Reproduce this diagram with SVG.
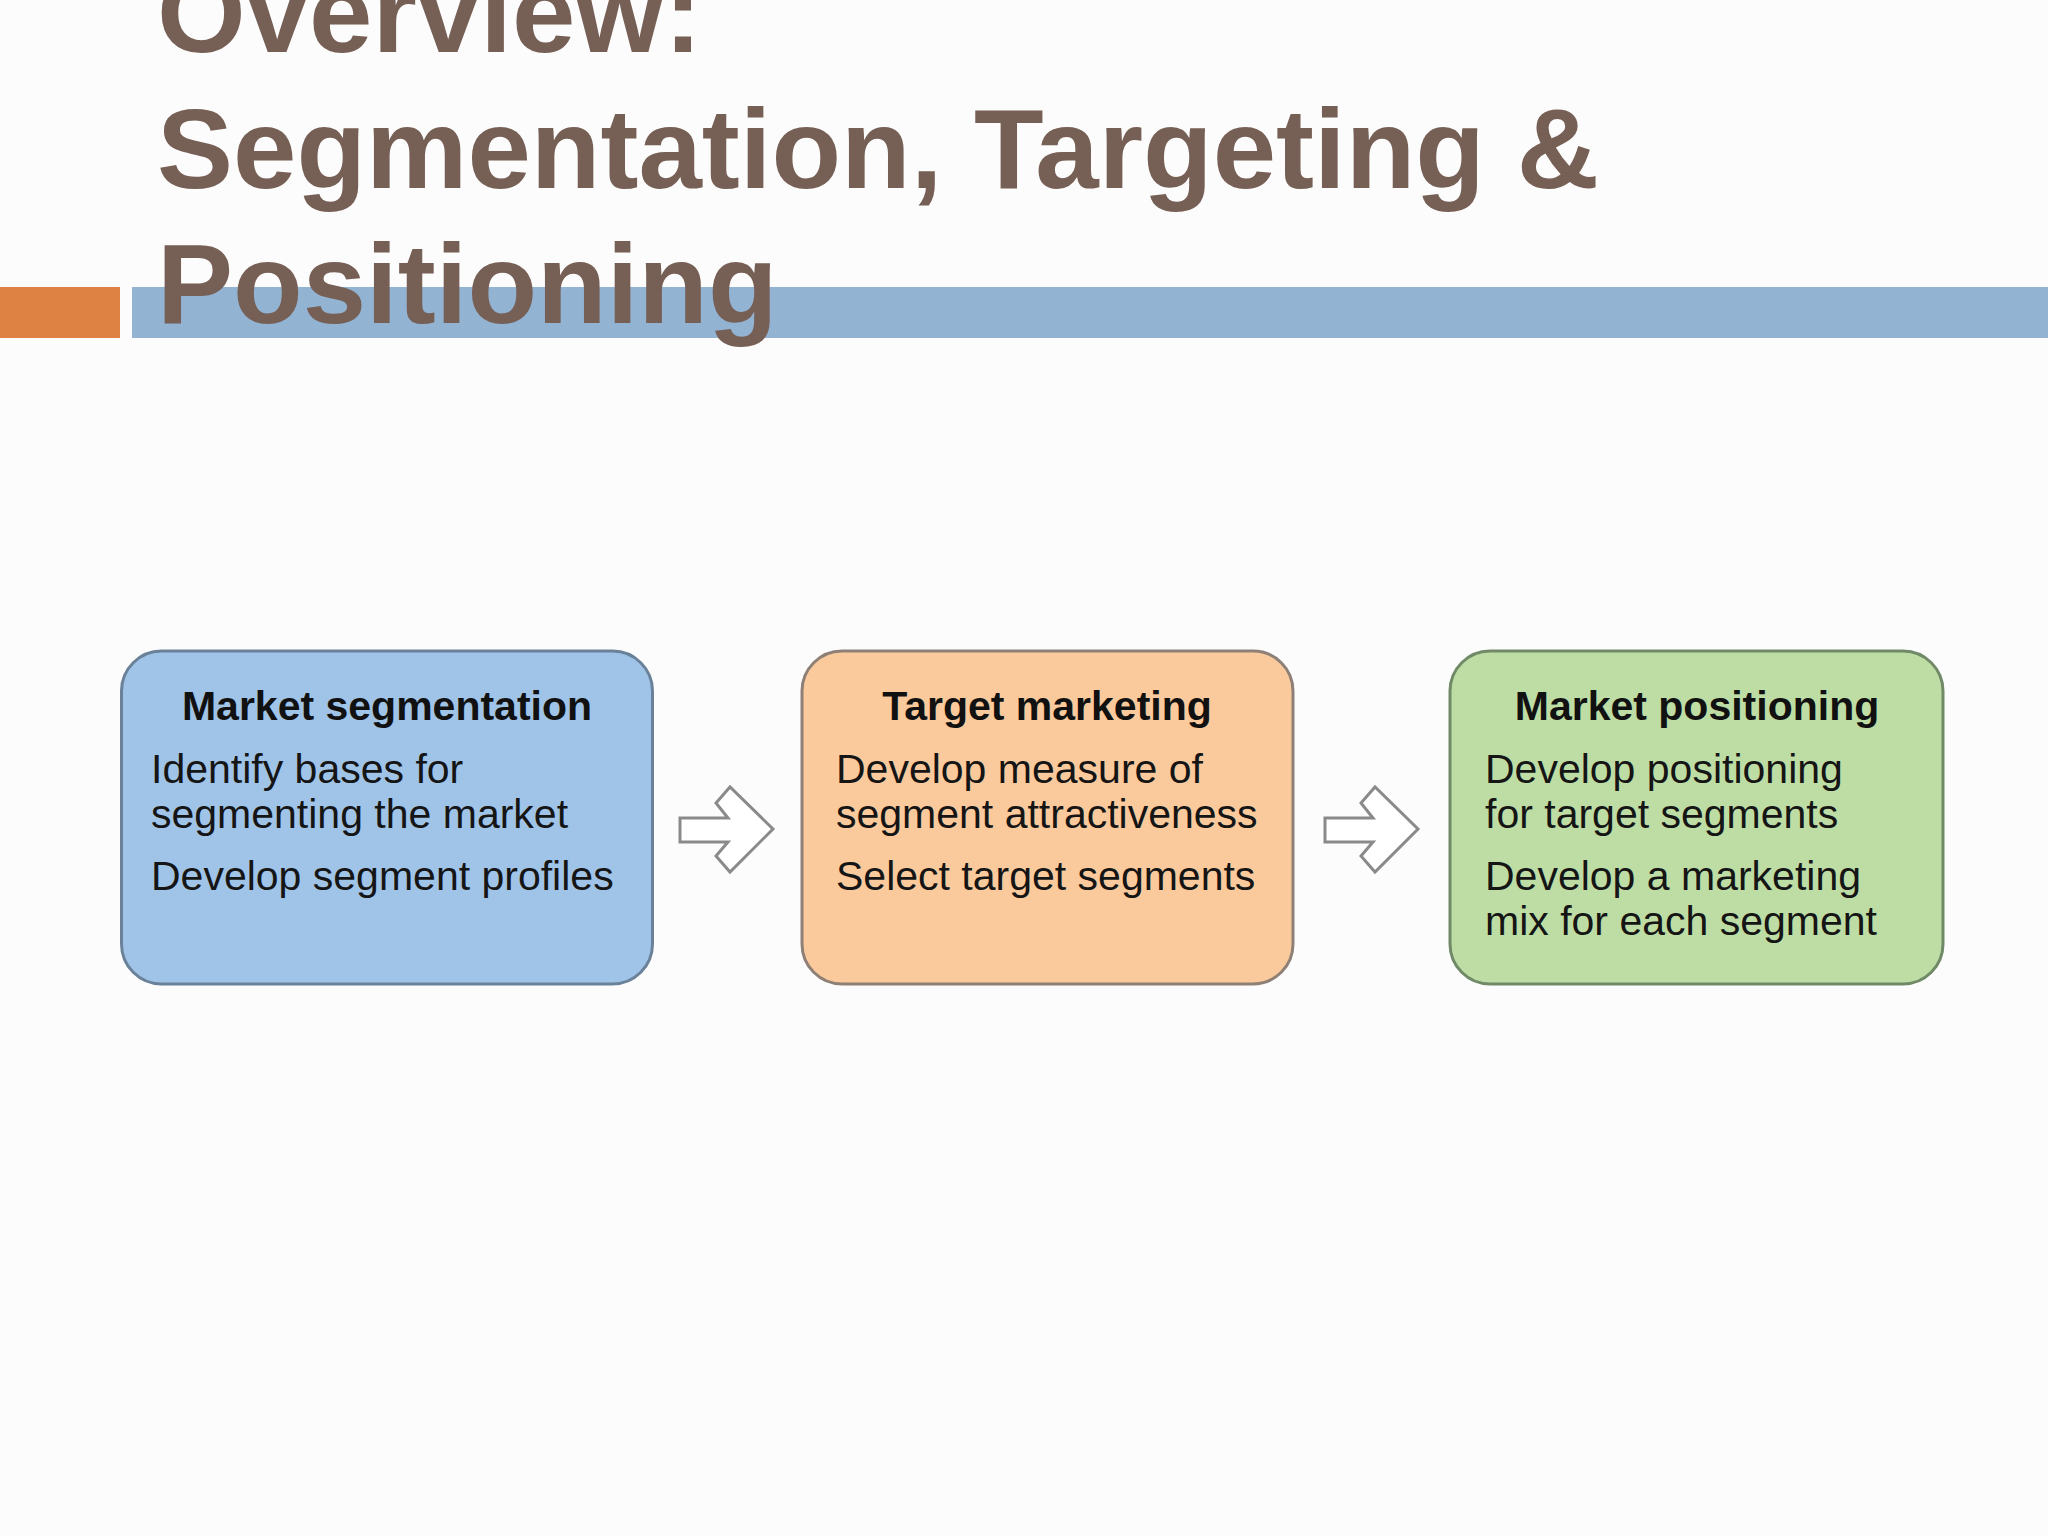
<svg xmlns="http://www.w3.org/2000/svg" width="2048" height="1536" viewBox="0 0 2048 1536">
  <style>
    .title { font-family: "Liberation Sans", Arial, sans-serif; font-weight: bold; font-size: 114px; fill: #765f55; }
    .head { font-family: "Liberation Sans", Arial, sans-serif; font-weight: bold; font-size: 41px; fill: #111111; text-anchor: middle; }
    .body { font-family: "Liberation Sans", Arial, sans-serif; font-size: 41px; fill: #151515; }
    .box { stroke-width: 3; }
    .arrow { fill: #ffffff; stroke: #8a8a8a; stroke-width: 3; stroke-linejoin: miter; }
  </style>
  <defs>
    <path id="arrowShape" d="M 0 0 L 48 0 L 36 -15 L 50 -31 L 93 11 L 50 54 L 36 38 L 48 24 L 0 24 Z"/>
  </defs>
  <rect x="0" y="0" width="2048" height="1536" fill="#fdfcfc"/>

  <g id="header-bars">
    <rect x="0" y="287" width="120" height="51" fill="#de8244"/>
    <rect x="132" y="287" width="1916" height="51" fill="#93b3d3"/>
  </g>

  <g id="title">
    <text class="title" x="157" y="52">Overview:</text>
    <text class="title" x="157" y="188">Segmentation, Targeting &amp;</text>
    <text class="title" x="157" y="323">Positioning</text>
  </g>

  <g id="node-segmentation">
    <rect class="box" x="121.5" y="651" width="531" height="333" rx="40" ry="40" fill="#a0c4e8" stroke="#6a8299"/>
    <text class="head" x="387" y="720">Market segmentation</text>
    <text class="body" x="151" y="783">Identify bases for</text>
    <text class="body" x="151" y="828">segmenting the market</text>
    <text class="body" x="151" y="890">Develop segment profiles</text>
  </g>

  <g id="node-targeting">
    <rect class="box" x="802" y="651" width="491" height="333" rx="40" ry="40" fill="#fbca9c" stroke="#8e8076"/>
    <text class="head" x="1047" y="720">Target marketing</text>
    <text class="body" x="836" y="783">Develop measure of</text>
    <text class="body" x="836" y="828">segment attractiveness</text>
    <text class="body" x="836" y="890">Select target segments</text>
  </g>

  <g id="node-positioning">
    <rect class="box" x="1450" y="651" width="493" height="333" rx="40" ry="40" fill="#bedda5" stroke="#708a68"/>
    <text class="head" x="1697" y="720">Market positioning</text>
    <text class="body" x="1485" y="783">Develop positioning</text>
    <text class="body" x="1485" y="828">for target segments</text>
    <text class="body" x="1485" y="890">Develop a marketing</text>
    <text class="body" x="1485" y="935">mix for each segment</text>
  </g>

  <g id="connectors">
    <use href="#arrowShape" class="arrow" transform="translate(680,818)"/>
    <use href="#arrowShape" class="arrow" transform="translate(1325,818)"/>
  </g>
</svg>
